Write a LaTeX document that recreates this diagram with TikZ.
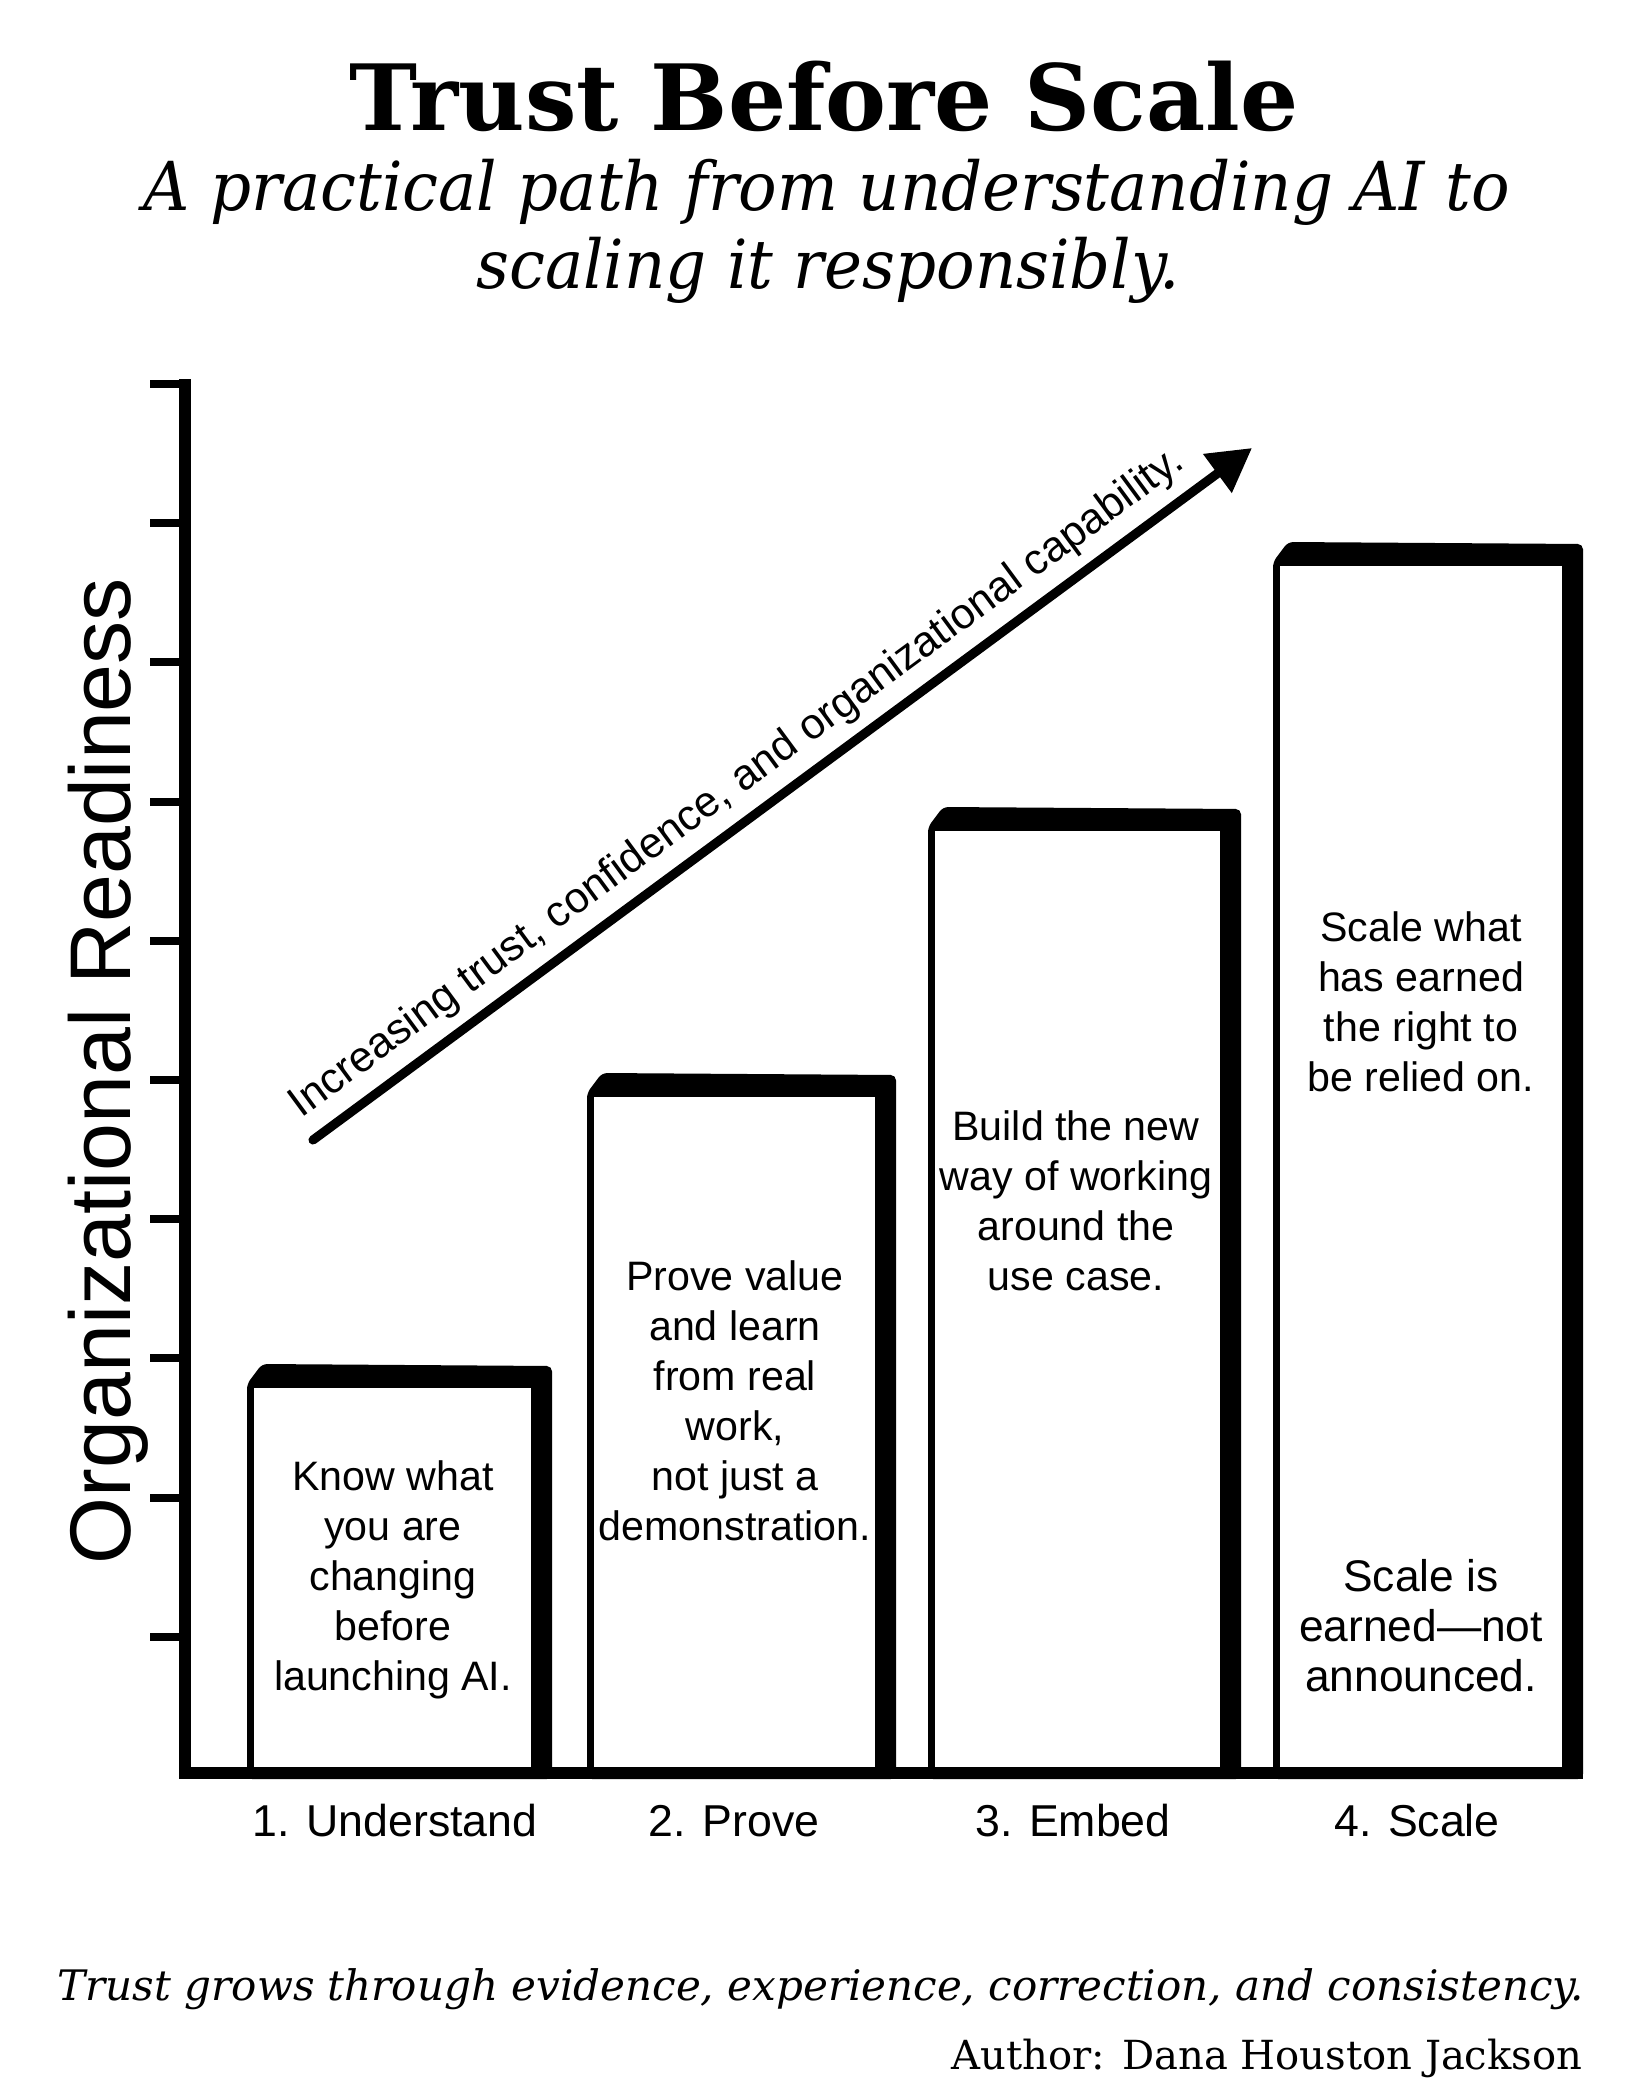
\documentclass[tikz,border=0pt]{standalone}
\usepackage{fontspec}
\setmainfont{Liberation Sans}
\newfontfamily\headfont{DejaVu Serif}
\newfontfamily\subfont{DejaVu Serif}[FakeStretch=0.95]
\usetikzlibrary{arrows.meta}

% one step of the staircase: left, top, right
\newcommand{\stairbar}[3]{%
  \fill[rounded corners=1.5pt] (#1,1773) -- (#1,#2+20) -- (#1+15,#2) -- (#3,#2+2) -- (#3,1779) -- (#1,1779) -- cycle;
  \fill[white] (#1+7,#2+24) rectangle (#3-21,1768);
}

\tikzset{
  bartext/.style={align=center, inner sep=0pt, font=\fontsize{11.7}{14.2}\selectfont},
  steplabel/.style={inner sep=0pt, font=\fontsize{12.7}{15}\selectfont},
  axisline/.style={line width=3.4pt},
  tickline/.style={line width=2.3pt},
  trend/.style={line width=2.6pt, line cap=round, -{Triangle[length=4.3mm,width=4.6mm]}}
}

\begin{document}
\begin{tikzpicture}[x=0.01cm, y=-0.01cm]
  \useasboundingbox (0,0) rectangle (1650,2100);
  \fill[white] (0,0) rectangle (1650,2100);

  % Title
  \node[anchor=base, inner sep=0pt, font=\headfont\bfseries\fontsize{26}{30}\selectfont] (title) at (824,130) {Trust Before Scale};
  \node[anchor=base, inner sep=0pt, font=\subfont\itshape\fontsize{19.2}{24}\selectfont] (sub1) at (827,210) {A practical path from understanding AI to};
  \node[anchor=base, inner sep=0pt, font=\subfont\itshape\fontsize{19.2}{24}\selectfont] (sub2) at (828,288) {scaling it responsibly.};

  % Steps
  \stairbar{247}{1364}{552}
  \stairbar{587}{1073}{896}
  \stairbar{928}{807}{1241}
  \stairbar{1273}{542}{1583}

  % Axes
  \draw[axisline] (185,379) -- (185,1779);
  \draw[axisline] (179,1773) -- (1583,1773);
  \foreach \k in {0,...,9}
    \draw[tickline] (150,{384+139.2*\k}) -- (185,{384+139.2*\k});
  \node[rotate=90, inner sep=0pt, font=\fontsize{24.5}{29}\selectfont] (ylab) at (108,1071) {Organizational Readiness};

  % Step texts
  \node[bartext] (T1) at (393,1580) {Know what\\you are\\changing\\before\\launching AI.};
  \node[bartext] (T2) at (735,1401) {Prove value\\and learn\\from real\\work,\\not just a\\demonstration.};
  \node[bartext] (T3) at (1076,1201) {Build the new\\way of working\\around the\\use case.};
  \node[bartext] (T4) at (1421,1002) {Scale what\\has earned\\the right to\\be relied on.};
  \node[bartext, font=\fontsize{12.6}{14.2}\selectfont] (T5) at (1421,1626) {Scale is\\earned—not\\announced.};

  % Step labels
  \node[steplabel] (L1) at (395,1821) {1. Understand};
  \node[steplabel] (L2) at (734,1821) {2. Prove};
  \node[steplabel] (L3) at (1073,1821) {3. Embed};
  \node[steplabel] (L4) at (1417,1821) {4. Scale};

  % Trend arrow
  \coordinate (S) at (313,1140);
  \coordinate (E) at (1252,448);
  \draw[trend] (S) -- (E) node[pos=0.474, sloped, above=3pt, inner sep=0pt, font=\fontsize{12.2}{14}\selectfont] (cap) {Increasing trust, confidence, and organizational capability.};

  % Footer
  \node[anchor=base, inner sep=0pt, font=\headfont\itshape\fontsize{11.95}{14}\selectfont] (foot) at (821,2000) {Trust grows through evidence, experience, correction, and consistency.};
  \node[anchor=base east, inner sep=0pt, font=\headfont\fontsize{11.4}{14}\selectfont] (author) at (1583,2069) {Author: Dana Houston Jackson};
\end{tikzpicture}
\end{document}
